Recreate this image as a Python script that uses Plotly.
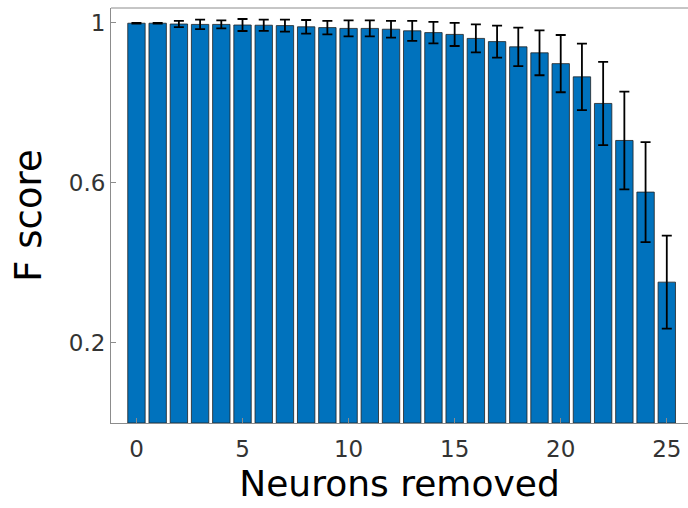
import plotly.graph_objects as go

neurons_removed = list(range(26))
f_score = [0.999, 0.999, 0.997, 0.996, 0.996, 0.9945, 0.994, 0.993, 0.990, 0.988,
           0.986, 0.986, 0.984, 0.980, 0.9755, 0.971, 0.961, 0.953, 0.940, 0.925,
           0.898, 0.865, 0.7985, 0.706, 0.577, 0.352]
f_score_err = [0.001, 0.001, 0.008, 0.012, 0.010, 0.015, 0.014, 0.015, 0.017, 0.017,
               0.020, 0.020, 0.021, 0.025, 0.027, 0.029, 0.035, 0.040, 0.048, 0.056,
               0.0715, 0.083, 0.104, 0.122, 0.125, 0.116]
x_ticks = [0, 5, 10, 15, 20, 25]
y_ticks = [0.2, 0.6, 1.0]
y_tick_labels = ["0.2", "0.6", "1"]

fig = go.Figure()
fig.add_trace(go.Bar(
    x=neurons_removed, y=f_score, width=0.82,
    marker=dict(color="#0072BD", line=dict(color="#222222", width=0.8)),
    error_y=dict(type="data", array=f_score_err, visible=True,
                 color="black", thickness=1.8, width=5),
))

axis_color = "#8c8c8c"
tick_font = dict(family="DejaVu Sans", size=23, color="#333333")
fig.update_layout(
    width=688, height=508,
    margin=dict(l=111, r=0, t=8, b=85),
    paper_bgcolor="white", plot_bgcolor="white",
    showlegend=False,
    xaxis=dict(range=[-1.2, 26], tickvals=x_ticks, ticks="inside", ticklen=5,
               tickcolor=axis_color, showline=True, linecolor=axis_color, linewidth=1,
               showgrid=False, zeroline=False, tickfont=tick_font,
               ticklabelstandoff=5,
               title=dict(text="Neurons removed", standoff=10,
                          font=dict(family="DejaVu Sans", size=36, color="black"))),
    yaxis=dict(range=[0, 1.037], tickvals=y_ticks, ticktext=y_tick_labels,
               ticks="inside", ticklen=5, tickcolor=axis_color,
               showline=True, linecolor=axis_color, linewidth=1,
               showgrid=False, zeroline=False, tickfont=tick_font,
               title=dict(text="F score", standoff=15,
                          font=dict(family="DejaVu Sans", size=37, color="black"))),
    shapes=[dict(type="line", xref="paper", yref="paper", x0=0, x1=1, y0=1, y1=1,
                 line=dict(color=axis_color, width=1))],
)

fig.write_html("out.html")
